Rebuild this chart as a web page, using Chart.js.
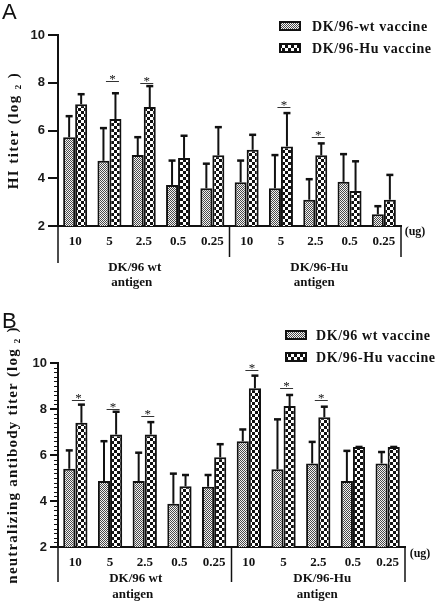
<!DOCTYPE html>
<html><head><meta charset="utf-8">
<script src="https://cdn.jsdelivr.net/npm/chart.js@4.4.1/dist/chart.umd.min.js"></script>
<style>html,body{margin:0;padding:0;background:#fff;width:439px;height:603px;overflow:hidden}canvas{display:block}</style>
</head><body>
<canvas id="cA" width="439" height="300"></canvas>
<canvas id="cB" width="439" height="303"></canvas>
<script>
// ---- data ----
const categories = ['10','5','2.5','0.5','0.25','10','5','2.5','0.5','0.25'];
const groupLabels = [['DK/96 wt','antigen'],['DK/96-Hu','antigen']];
const unitLabel = '(ug)';
const namesA = ['DK/96-wt vaccine','DK/96-Hu vaccine'];
const namesB = ['DK/96 wt vaccine','DK/96-Hu vaccine'];
const titleA = 'HI titer (log \u2082 )';
const titleB = 'neutralizing antibody titer (log \u2082 )';

const wtA      = [5.72, 4.73, 4.97, 3.72, 3.58, 3.83, 3.58, 3.10, 3.85, 2.49];
const wtAUpper = [6.60, 6.10, 5.72, 4.74, 4.61, 4.74, 4.97, 3.96, 5.01, 2.83];
const huA      = [7.10, 6.48, 6.98, 4.85, 4.96, 5.19, 5.33, 4.96, 3.47, 3.10];
const huAUpper = [7.52, 7.56, 7.86, 5.78, 6.14, 5.82, 6.73, 5.46, 4.71, 4.14];
const sigA     = [null, 8.07, 8.00, null, null, null, 6.98, 5.72, null, null];

const wtB      = [5.40, 4.87, 4.87, 3.88, 4.62, 6.60, 5.38, 5.63, 4.87, 5.63];
const wtBUpper = [6.20, 6.60, 6.10, 5.19, 5.13, 7.11, 7.55, 6.57, 6.18, 6.13];
const huB      = [7.40, 6.89, 6.89, 4.64, 5.90, 8.90, 8.13, 7.64, 6.35, 6.35];
const huBUpper = [8.19, 7.88, 7.43, 5.13, 6.47, 9.45, 8.61, 8.10, 6.35, 6.35];
const sigB     = [8.39, 8.00, 7.71, null, null, 9.71, 8.93, 8.39, null, null];

const yMin = 2, yMax = 10, yStep = 2, yMinorStep = 0.2;

// ---- patterns ----
function makePattern(kind){
  const c = document.createElement('canvas');
  const g = c.getContext('2d');
  if(kind === 'fine'){
    c.width = 2; c.height = 2;
    g.fillStyle = '#f4f4f4'; g.fillRect(0,0,2,2);
    g.fillStyle = '#4a4a4a'; g.fillRect(0,0,1,1); g.fillRect(1,1,1,1);
  } else {
    c.width = 6; c.height = 6;
    g.fillStyle = '#ffffff'; g.fillRect(0,0,6,6);
    g.fillStyle = '#111111'; g.fillRect(0,0,3,3); g.fillRect(3,3,3,3);
  }
  return document.createElement('canvas').getContext('2d').createPattern(c,'repeat');
}
const patFine = makePattern('fine');
const patCoarse = makePattern('coarse');
const INK = '#111';

const decor = {
  id: 'decor',
  afterDraw(chart, args, o){
    const ctx = chart.ctx, xs = chart.scales.x, ys = chart.scales.y, ca = chart.chartArea;
    ctx.save();
    // minor ticks
    if(o.minor){
      ctx.strokeStyle = INK; ctx.lineWidth = 1;
      for(let k = 0; yMin + k*yMinorStep <= yMax + 1e-9; k++){
        const py = Math.round(ys.getPixelForValue(yMin + k*yMinorStep)) + 0.5;
        ctx.beginPath(); ctx.moveTo(ca.left - 4, py); ctx.lineTo(ca.left, py); ctx.stroke();
      }
    }
    // error bars
    chart.data.datasets.forEach((ds, di) => {
      const meta = chart.getDatasetMeta(di);
      meta.data.forEach((bar, i) => {
        const t = ys.getPixelForValue(ds.data[i]);
        const u = ys.getPixelForValue(ds.upper[i]);
        ctx.strokeStyle = INK; ctx.lineWidth = 2;
        ctx.beginPath(); ctx.moveTo(bar.x, t); ctx.lineTo(bar.x, u); ctx.stroke();
        ctx.lineWidth = 2.5;
        ctx.beginPath(); ctx.moveTo(bar.x - 3.5, u); ctx.lineTo(bar.x + 3.5, u); ctx.stroke();
      });
    });
    // significance marks
    const huMeta = chart.getDatasetMeta(1);
    o.sig.forEach((v, i) => {
      if(v === null) return;
      const cx = (xs.getPixelForValue(i) + huMeta.data[i].x) / 2;
      const ly = Math.round(ys.getPixelForValue(v)) + 0.5;
      ctx.strokeStyle = '#333'; ctx.lineWidth = 1;
      ctx.beginPath(); ctx.moveTo(cx - 6.5, ly); ctx.lineTo(cx + 6.5, ly); ctx.stroke();
      ctx.fillStyle = INK; ctx.font = '13px "Liberation Serif"';
      ctx.textAlign = 'center'; ctx.textBaseline = 'alphabetic';
      ctx.fillText('*', cx, ly + 1);
    });
    // group dividers
    const mid = (xs.getPixelForValue(4) + xs.getPixelForValue(5)) / 2;
    ctx.strokeStyle = INK; ctx.lineWidth = 1.5;
    [[ca.left, o.div[0]], [mid, o.div[1]], [ca.right, o.div[2]]].forEach(([dx, len]) => {
      ctx.beginPath(); ctx.moveTo(dx, ca.bottom); ctx.lineTo(dx, ca.bottom + len); ctx.stroke();
    });
    // group labels
    ctx.fillStyle = INK; ctx.font = 'bold 13px "Liberation Serif"';
    ctx.textAlign = 'center'; ctx.textBaseline = 'middle';
    const gc = [(xs.getPixelForValue(0) + xs.getPixelForValue(4)) / 2, (xs.getPixelForValue(5) + xs.getPixelForValue(9)) / 2];
    const gOff = [[-9, -12], [4, -1]];
    groupLabels.forEach((lines, g) => {
      lines.forEach((s, li) => ctx.fillText(s, gc[g] + gOff[g][li], ca.bottom + o.gy[li]));
    });
    // unit label
    ctx.font = 'bold 12px "Liberation Serif"';
    ctx.fillText(unitLabel, ca.right + o.unit[0], ca.bottom + o.unit[1]);
    // panel letter
    ctx.font = '22px "Liberation Sans"'; ctx.textAlign = 'left'; ctx.textBaseline = 'alphabetic';
    ctx.fillText(o.letter, 2, o.letterY);
    // y title
    ctx.save();
    ctx.translate(o.titleX, (ca.top + ca.bottom) / 2);
    ctx.rotate(-Math.PI / 2);
    ctx.font = 'bold 15px "Liberation Serif"';
    ctx.letterSpacing = o.titleSpacing;
    ctx.textAlign = 'center'; ctx.textBaseline = 'alphabetic';
    ctx.fillText(o.title, 0, 0);
    ctx.restore();
    // legend
    chart.data.datasets.forEach((ds, di) => {
      const ry = o.legend.rows[di];
      ctx.fillStyle = ds.backgroundColor;
      ctx.fillRect(o.legend.x, ry - 5, 22, 10);
      ctx.strokeStyle = INK; ctx.lineWidth = 2;
      ctx.strokeRect(o.legend.x + 1, ry - 4, 20, 8);
      ctx.fillStyle = INK; ctx.font = 'bold 14px "Liberation Serif"';
      ctx.letterSpacing = '0.6px';
      ctx.textAlign = 'left'; ctx.textBaseline = 'middle';
      ctx.fillText(ds.label, o.legend.tx, ry + 1);
      ctx.letterSpacing = '0px';
    });
    ctx.restore();
  }
};

function build(id, cfg){
  new Chart(document.getElementById(id), {
    type: 'bar',
    data: {
      labels: categories,
      datasets: [
        {label: cfg.names[0], data: cfg.wt, upper: cfg.wtUp, backgroundColor: patFine, borderColor: INK, borderWidth: 2, borderSkipped: 'start'},
        {label: cfg.names[1], data: cfg.hu, upper: cfg.huUp, backgroundColor: patCoarse, borderColor: INK, borderWidth: 2, borderSkipped: 'start'}
      ]
    },
    options: {
      responsive: false, animation: false, devicePixelRatio: 1,
      layout: {padding: {left: 0, top: cfg.top, right: 439 - cfg.right, bottom: cfg.h - cfg.bottom - 30}},
      datasets: {bar: {categoryPercentage: 0.7, barPercentage: 1.0}},
      plugins: {
        legend: {display: false}, tooltip: {enabled: false},
        decor: cfg.decor
      },
      scales: {
        x: {
          grid: {display: false, drawTicks: false},
          border: {display: true, color: INK, width: 2},
          ticks: {color: INK, padding: 8, font: {family: 'Liberation Serif', weight: 'bold', size: 13}, maxRotation: 0, autoSkip: false},
          afterFit: s => { s.height = 30; }
        },
        y: {
          min: yMin, max: yMax,
          grid: {drawOnChartArea: false, drawTicks: true, tickLength: cfg.tickLen, color: INK, lineWidth: 2},
          border: {display: true, color: INK, width: 2},
          ticks: {stepSize: yStep, color: '#1a1a1a', padding: 3, font: {family: 'Liberation Sans', weight: 'bold', size: 13}},
          afterFit: s => { s.width = cfg.left; }
        }
      }
    },
    plugins: [decor]
  });
}

build('cA', {
  names: namesA, wt: wtA, wtUp: wtAUpper, hu: huA, huUp: huAUpper,
  h: 300, top: 35, bottom: 226, left: 58, right: 401, tickLen: 10,
  decor: {sig: sigA, minor: false, div: [37, 31, 31], gy: [42, 57], unit: [14, 6], letter: 'A', letterY: 19,
          title: titleA, titleX: 18, titleSpacing: '1.4px', legend: {x: 279, tx: 312, rows: [26, 48]}}
});
build('cB', {
  names: namesB, wt: wtB, wtUp: wtBUpper, hu: huB, huUp: huBUpper,
  h: 303, top: 63, bottom: 247, left: 58, right: 405, tickLen: 8,
  decor: {sig: sigB, minor: true, div: [35, 35, 35], gy: [32, 48], unit: [15, 7], letter: 'B', letterY: 28,
          title: titleB, titleX: 17, titleSpacing: '1.2px', legend: {x: 285, tx: 316, rows: [35, 57]}}
});
</script>
</body></html>
